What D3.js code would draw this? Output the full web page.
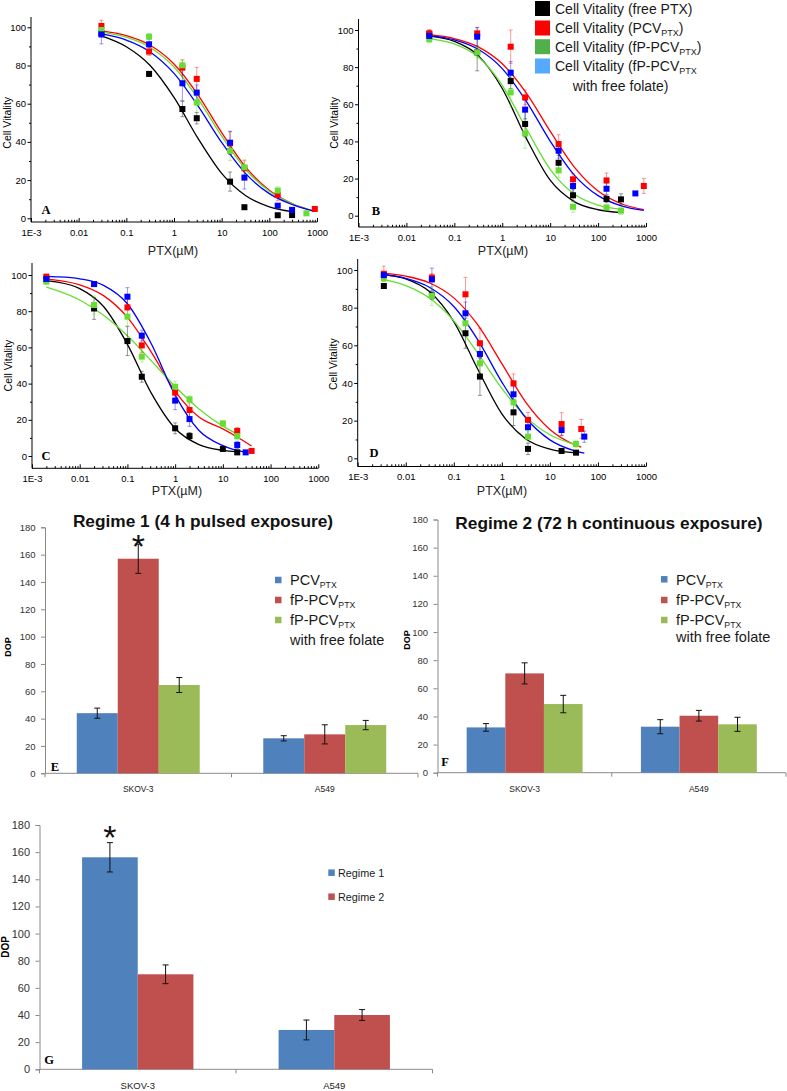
<!DOCTYPE html>
<html><head><meta charset="utf-8">
<script src="https://cdn.jsdelivr.net/npm/d3@7"></script>
<style>body{margin:0;background:#fff}svg{display:block}</style>
</head><body><svg id="c" width="787" height="1091"></svg>
<script>
// ---------------- DATA ----------------
const curveYTicks = [0, 20, 40, 60, 80, 100];
const curveYMinor = [10, 30, 50, 70, 90];
const curveXTicks = [1e-3, 1e-2, 1e-1, 1, 10, 100, 1000];
const curveXTickLabels = ["1E-3", "0.01", "0.1", "1", "10", "100", "1000"];
const curveSeriesNames = ["free PTX", "PCV_PTX", "fP-PCV_PTX", "fP-PCV_PTX with free folate"];

// points: [PTX µM, cell vitality, error]
const A_black = [[0.03,97,2],[0.3,75.6,1],[1.5,57.2,4],[3,52.4,3],[15,19.2,5],[30,5.8,1],[150,1.6,0.5],[300,1.7,0.5]];
const A_red   = [[0.03,100.7,3],[0.3,87.3,2],[1.5,78.9,4],[3,73,6],[15,39.3,6],[30,26.2,4],[150,12.2,3],[900,4.9,1]];
const A_green = [[0.03,98.6,2],[0.3,95.1,1.5],[1.5,80.1,3],[3,60.6,5],[15,35.3,5],[30,26.7,4],[150,14.5,2],[600,2.6,0.5]];
const A_blue  = [[0.03,96.3,5],[0.3,91.1,3],[1.5,70.7,9],[3,65.8,4],[15,39.6,6],[30,21.3,6],[150,6.6,1],[300,4.4,1]];
// fitted curves: [PTX µM, cell vitality]
const A_black_fit = [[0.03,95.5],[0.1,89.8],[0.316,80],[1,63.3],[3.16,42],[10,23.5],[31.6,11.9],[100,6],[300,3.5]];
const A_red_fit   = [[0.03,98.1],[0.1,95.6],[0.316,90.6],[1,80.8],[3.16,64.8],[10,44.9],[31.6,26.9],[100,14.7],[316,7.5],[900,3.8]];
const A_green_fit = [[0.03,97.5],[0.1,94.8],[0.316,89.4],[1,79.2],[3.16,62.8],[10,43],[31.6,25.7],[100,14.2],[316,7.5],[900,3.5]];
const A_blue_fit  = [[0.03,96.5],[0.1,93.3],[0.316,87.1],[1,75.9],[3.16,59],[10,39.7],[31.6,23.5],[100,12.9],[316,7],[900,3.6]];

const B_black = [[0.03,97.7,2],[0.3,88,10],[1.5,72.5,4],[3,49.4,7],[15,28.5,4],[30,11,3],[150,9,2],[300,8.8,3]];
const B_red   = [[0.03,98.2,2],[0.3,98.2,3],[1.5,91,9],[3,63.7,4],[15,38.6,5],[30,19.6,3],[150,19,4],[900,16,4]];
const B_green = [[0.03,95,2],[0.3,88,3],[1.5,66.4,8],[3,44.3,8],[15,24.4,4],[30,4.8,3],[150,4.5,1],[300,2.7,2]];
const B_blue  = [[0.03,96.8,2],[0.3,96.4,5],[1.5,77,6],[3,57.1,5],[15,35,4],[30,16,4],[150,14.5,3],[600,12,1]];
const B_black_fit = [[0.03,96.7],[0.1,93.9],[0.316,86.2],[1,68.5],[3.16,41.8],[10,19.1],[31.6,7.6],[100,3.2],[300,1.7]];
const B_red_fit   = [[0.03,97.5],[0.1,95.4],[0.316,90.9],[1,81.8],[3.16,66.1],[10,45.5],[31.6,26.3],[100,13.3],[316,6.3],[900,3.3]];
const B_green_fit = [[0.03,95.4],[0.1,92.5],[0.316,85.4],[1,70.2],[3.16,47],[10,25],[31.6,11.7],[100,5.7],[300,3.4]];
const B_blue_fit  = [[0.03,97],[0.1,94.7],[0.316,89.6],[1,79.2],[3.16,61.7],[10,40.2],[31.6,22],[100,10.8],[316,5.2],[900,2.9]];

const C_black = [[0.002,97.6,1],[0.02,81.5,6],[0.1,63.5,8],[0.2,43.8,3],[1,15.3,3],[2,11,2],[10,3.9,1],[20,2,1]];
const C_red   = [[0.002,99.1,1],[0.02,95,1],[0.1,82.1,6],[0.2,61.1,4],[1,35,3],[2,25.4,4],[20,13.8,2],[40,2.8,1]];
const C_green = [[0.002,96.3,1],[0.02,83.4,5],[0.1,77,5],[0.2,54.9,3],[1,38.3,3],[2,31.3,2],[10,18,1.5],[20,11,2]];
const C_blue  = [[0.002,97.8,1],[0.02,95,1],[0.1,88,5],[0.2,66.5,3],[1,30.6,5],[2,20.4,4],[20,6.1,2],[30,2,0.5]];
const C_black_fit = [[0.002,96.9],[0.00316,96.2],[0.01,92.5],[0.0316,82.6],[0.1,61.7],[0.316,34.7],[1,15.2],[3.16,6.3],[10,3.1],[20,2.3]];
const C_red_fit   = [[0.002,97.7],[0.00316,97.2],[0.01,94.6],[0.0316,88.6],[0.1,76.6],[0.316,57.4],[1,35.7],[3.16,21.5],[10,15],[20,10.5],[40,5.5]];
const C_green_fit = [[0.002,93.3],[0.00316,91.7],[0.01,86.2],[0.0316,77.8],[0.1,66.4],[0.316,52.6],[1,38.4],[3.16,26],[10,16.5],[20,12.2]];
const C_blue_fit  = [[0.002,99.2],[0.00316,99],[0.01,97.9],[0.0316,94.3],[0.1,84.1],[0.316,62],[1,33.6],[3.16,14.1],[10,5.7],[30,2]];

const D_black = [[0.0035,91.5,1],[0.035,86.5,2],[0.175,66.4,8],[0.35,43.4,10],[1.75,24.4,7],[3.5,5,3],[17.5,3.9,1],[35,3,1]];
const D_red   = [[0.0035,98,4],[0.035,96,2],[0.175,87.1,9],[0.35,61.1,8],[1.75,39.8,5],[3.5,20.4,4],[17.5,18.2,6],[45,15.6,5]];
const D_green = [[0.0035,95.6,1],[0.035,86.2,5],[0.175,71.7,3],[0.35,50.4,5],[1.75,29.7,4],[3.5,11.5,3],[35,7.6,2]];
const D_blue  = [[0.0035,97.3,1],[0.035,95,6],[0.175,77,6],[0.35,55.4,5],[1.75,34,4],[3.5,16.5,4],[17.5,15,3],[52,11.5,3]];
const D_black_fit = [[0.0035,97.6],[0.01,95.3],[0.0316,88.4],[0.1,72.6],[0.316,47.3],[1,23.6],[3.16,10.3],[10,4.9],[35,2.9]];
const D_red_fit   = [[0.0035,98.3],[0.01,96.7],[0.0316,93.1],[0.1,85.2],[0.316,70.8],[1,50.3],[3.16,29.7],[10,15.3],[31.6,7.4],[45,5.9]];
const D_green_fit = [[0.0035,94.9],[0.01,91.7],[0.0316,85],[0.1,73],[0.316,55.8],[1,37.1],[3.16,22],[10,12.5],[35,7.2]];
const D_blue_fit  = [[0.0035,97.5],[0.01,95.5],[0.0316,90.7],[0.1,80.6],[0.316,62.9],[1,40.5],[3.16,21.4],[10,9.8],[31.6,4.1],[52,2.7]];

// bar charts
const barCategories = ["SKOV-3", "A549"];
const barYTicks = [0, 20, 40, 60, 80, 100, 120, 140, 160, 180];
const E_pcv = [44, 25.6],   E_pcv_err = [3.7, 1.9];
const E_fp  = [157, 28.5],  E_fp_err  = [10.7, 7];
const E_fpf = [64.6, 35.3], E_fpf_err = [5.5, 3.4];
const F_pcv = [32.2, 32.7], F_pcv_err = [2.7, 5];
const F_fp  = [70.6, 40.5], F_fp_err  = [7.5, 3.8];
const F_fpf = [48.8, 34.4], F_fpf_err = [6.2, 5];
const G_r1  = [156.2, 29],  G_r1_err  = [10.8, 7.3];
const G_r2  = [70, 40],     G_r2_err  = [6.9, 4];

// ---------------- DRAW ----------------
const SANS = "'Liberation Sans', Arial, sans-serif";
const SERIF = "'Liberation Serif', 'Times New Roman', serif";
const curveColors = ["#000000", "#ff0000", "#66dd33", "#0000ff"];
const legendColors = ["#000000", "#ff0000", "#52b04a", "#55aaff"];
const barColors = ["#4f81bd", "#c0504d", "#9bbb59"];

const svg = d3.select("#c");
svg.append("rect").attr("width", 787).attr("height", 1091).attr("fill", "#fff");

function curvePanel(p, pts, fits) {
  const g = svg.append("g");
  const x = d3.scaleLog().domain([1e-3, 1e3]).range([p.x0, p.x1]);
  const y = d3.scaleLinear().domain([0, 100]).range([p.y0, p.y100]);

  g.append("line").attr("x1", p.x0).attr("x2", p.x0).attr("y1", p.topY).attr("y2", p.axisY)
    .attr("stroke", "#000").attr("stroke-width", 1);
  g.append("line").attr("x1", p.x0).attr("x2", p.x1).attr("y1", p.axisY).attr("y2", p.axisY)
    .attr("stroke", "#000").attr("stroke-width", 1);

  const ya = g.append("g").attr("transform", `translate(${p.x0},0)`)
    .call(d3.axisLeft(y).tickValues(curveYTicks).tickSize(3.5).tickPadding(1.5));
  ya.select(".domain").remove();
  ya.attr("font-size", 9.5).attr("font-family", SANS);
  const ym = g.append("g").attr("transform", `translate(${p.x0},0)`)
    .call(d3.axisLeft(y).tickValues(curveYMinor).tickSize(2).tickFormat(""));
  ym.select(".domain").remove();

  const xa = g.append("g").attr("transform", `translate(0,${p.axisY})`)
    .call(d3.axisBottom(x).tickValues(curveXTicks).tickFormat((d, i) => curveXTickLabels[i]).tickSize(-4).tickPadding(7));
  xa.select(".domain").remove();
  xa.attr("font-size", 9.5).attr("font-family", SANS);
  const minors = [];
  curveXTicks.slice(0, 6).forEach(d => { for (let k = 2; k <= 9; k++) minors.push(d * k); });
  const xm = g.append("g").attr("transform", `translate(0,${p.axisY})`)
    .call(d3.axisBottom(x).tickValues(minors).tickSize(-2.2).tickFormat(""));
  xm.select(".domain").remove();

  g.append("text").attr("transform", `translate(${p.x0 - 20.5},${(p.y0 + p.y100) / 2}) rotate(-90)`)
    .attr("text-anchor", "middle").attr("font-family", SANS).attr("font-size", 10.5).text("Cell Vitality");
  g.append("text").attr("x", p.tx).attr("y", p.ty).attr("text-anchor", "middle")
    .attr("font-family", SANS).attr("font-size", 12.5).attr("fill", "#222").text("PTX(µM)");
  g.append("text").attr("x", p.lx).attr("y", p.ly).attr("text-anchor", "middle")
    .attr("font-family", SERIF).attr("font-weight", "bold").attr("font-size", 12.5).text(p.label);

  const line = d3.line().x(d => x(d[0])).y(d => y(d[1])).curve(d3.curveMonotoneX);
  fits.forEach((f, i) => {
    g.append("path").attr("d", line(f)).attr("fill", "none")
      .attr("stroke", curveColors[i]).attr("stroke-width", 1.3);
  });
  pts.forEach((s, i) => {
    const eg = g.append("g").attr("stroke", curveColors[i]).attr("stroke-opacity", 0.45).attr("stroke-width", 0.9);
    s.forEach(d => {
      const cx = x(d[0]);
      eg.append("line").attr("x1", cx).attr("x2", cx).attr("y1", y(d[1] - d[2])).attr("y2", y(d[1] + d[2]));
      eg.append("line").attr("x1", cx - 2).attr("x2", cx + 2).attr("y1", y(d[1] - d[2])).attr("y2", y(d[1] - d[2]));
      eg.append("line").attr("x1", cx - 2).attr("x2", cx + 2).attr("y1", y(d[1] + d[2])).attr("y2", y(d[1] + d[2]));
    });
  });
  pts.forEach((s, i) => {
    g.append("g").selectAll("rect").data(s).join("rect")
      .attr("x", d => x(d[0]) - 3).attr("y", d => y(d[1]) - 3)
      .attr("width", 6).attr("height", 6).attr("fill", curveColors[i]);
  });
}

curvePanel({x0: 31, x1: 317, y0: 218.3, y100: 27.3, axisY: 222, topY: 17, label: "A", lx: 46, ly: 213.5, tx: 173, ty: 254.5},
  [A_black, A_red, A_green, A_blue], [A_black_fit, A_red_fit, A_green_fit, A_blue_fit]);
curvePanel({x0: 358.5, x1: 646, y0: 215.7, y100: 30, axisY: 227, topY: 19, label: "B", lx: 376, ly: 215, tx: 503, ty: 254.5},
  [B_black, B_red, B_green, B_blue], [B_black_fit, B_red_fit, B_green_fit, B_blue_fit]);
curvePanel({x0: 32, x1: 318.3, y0: 456, y100: 275, axisY: 468.3, topY: 263, label: "C", lx: 46, ly: 460, tx: 177, ty: 494.5},
  [C_black, C_red, C_green, C_blue], [C_black_fit, C_red_fit, C_green_fit, C_blue_fit]);
curvePanel({x0: 357.7, x1: 646, y0: 458.3, y100: 270, axisY: 466.5, topY: 259, label: "D", lx: 374, ly: 457, tx: 502, ty: 494.5},
  [D_black, D_red, D_green, D_blue], [D_black_fit, D_red_fit, D_green_fit, D_blue_fit]);

// text helper with subscripts: parts = [[text, isSub], ...]
function richText(parent, x, y, parts, size, subSize, anchor) {
  const t = parent.append("text").attr("x", x).attr("y", y).attr("font-family", SANS)
    .attr("font-size", size).attr("fill", "#1a1a1a").attr("text-anchor", anchor || "start");
  let prevSub = false;
  parts.forEach(([s, sub]) => {
    const ts = t.append("tspan").text(s);
    if (sub) ts.attr("font-size", subSize);
    const dy = sub && !prevSub ? size * 0.22 : (!sub && prevSub ? -size * 0.22 : 0);
    ts.attr("dy", dy);
    prevSub = sub;
  });
  return t;
}

// top-right legend
const legRows = [
  [["Cell Vitality (free  PTX)", false]],
  [["Cell Vitality (PCV", false], ["PTX", true], [")", false]],
  [["Cell Vitality (fP-PCV", false], ["PTX", true], [")", false]],
  [["Cell Vitality (fP-PCV", false], ["PTX", true]]
];
const legY = [8.5, 28, 46.7, 66];
const lg = svg.append("g");
legRows.forEach((r, i) => {
  lg.append("rect").attr("x", 535).attr("y", legY[i] - 7.5).attr("width", 15).attr("height", 15).attr("fill", legendColors[i]);
  richText(lg, 555, legY[i] + 5, r, 14, 9);
});
richText(lg, 572.7, 86 + 5, [["with free  folate)", false]], 14, 9);

// bar panels
function barPanel(p, vals, errs, names) {
  const g = svg.append("g");
  const n = vals.length;
  const x = d3.scaleBand().domain(barCategories).range([p.xl, p.xr]);
  const xs = d3.scaleBand().domain(d3.range(n)).range([0, x.bandwidth()]).paddingInner(0).paddingOuter(p.po);
  const y = d3.scaleLinear().domain([0, 180]).range([p.y0, p.y180]);

  const ya = g.append("g").attr("transform", `translate(${p.xl},0)`)
    .call(d3.axisLeft(y).tickValues(barYTicks).tickSize(4).tickPadding(5.5));
  ya.select(".domain").attr("stroke", "#8a8a8a");
  ya.selectAll(".tick line").attr("stroke", "#8a8a8a");
  ya.attr("font-size", p.tickFont).attr("font-family", SANS);
  ya.selectAll(".tick text").attr("fill", "#333");
  g.append("line").attr("x1", p.xl).attr("x2", p.xr).attr("y1", p.y0).attr("y2", p.y0).attr("stroke", "#8a8a8a");
  const bounds = barCategories.map(c => x(c)).concat([p.xr]);
  g.selectAll(".sep").data(bounds).join("line").attr("x1", d => d).attr("x2", d => d)
    .attr("y1", p.y0).attr("y2", p.y0 + 4).attr("stroke", "#8a8a8a");
  const xa = g.append("g").attr("transform", `translate(0,${p.y0})`)
    .call(d3.axisBottom(x).tickSize(0).tickPadding(p.catPad));
  xa.select(".domain").remove();
  xa.attr("font-size", p.catFont).attr("font-family", SANS);
  xa.selectAll(".tick text").attr("fill", "#222");

  vals.forEach((sv, si) => {
    g.append("g").selectAll("rect").data(sv).join("rect")
      .attr("x", (d, ci) => x(barCategories[ci]) + xs(si))
      .attr("y", d => y(d)).attr("width", xs.bandwidth()).attr("height", d => p.y0 - y(d))
      .attr("fill", barColors[si]);
  });
  vals.forEach((sv, si) => {
    const eg = g.append("g").attr("stroke", "#111").attr("stroke-width", 1);
    sv.forEach((d, ci) => {
      const cx = x(barCategories[ci]) + xs(si) + xs.bandwidth() / 2;
      const e = errs[si][ci];
      eg.append("line").attr("x1", cx).attr("x2", cx).attr("y1", y(d - e)).attr("y2", y(d + e));
      eg.append("line").attr("x1", cx - 3).attr("x2", cx + 3).attr("y1", y(d - e)).attr("y2", y(d - e));
      eg.append("line").attr("x1", cx - 3).attr("x2", cx + 3).attr("y1", y(d + e)).attr("y2", y(d + e));
    });
  });

  g.append("text").attr("transform", `translate(${p.dopX},${p.dopY}) rotate(-90)`)
    .attr("text-anchor", "middle").attr("font-family", SANS).attr("font-weight", "bold")
    .attr("font-size", p.dopFont).text("DOP");
  g.append("text").attr("x", p.lx).attr("y", p.ly).attr("text-anchor", "middle")
    .attr("font-family", SERIF).attr("font-weight", "bold").attr("font-size", 12.5).text(p.label);

  names.forEach((nm, i) => {
    g.append("rect").attr("x", p.legX).attr("y", p.legY[i] - p.sq / 2).attr("width", p.sq).attr("height", p.sq).attr("fill", barColors[i]);
    richText(g, p.legTX, p.legY[i] + p.legFont * 0.36, nm, p.legFont, p.legFont * 0.6);
  });
  if (p.extra) richText(g, p.legTX, p.extra[1] + p.legFont * 0.36, [[p.extra[0], false]], p.legFont, 9);
  if (p.star) {
    const si = p.star[0];
    const cx = x(barCategories[0]) + xs(si) + xs.bandwidth() / 2;
    g.append("text").attr("x", cx).attr("y", p.star[1] + 20).attr("text-anchor", "middle")
      .attr("font-family", SANS).attr("font-size", 34).attr("fill", "#111").text("*");
  }
  if (p.title) {
    g.append("text").attr("x", p.title[1]).attr("y", p.title[2]).attr("text-anchor", "middle")
      .attr("font-family", SANS).attr("font-weight", "bold").attr("font-size", 17.3).attr("fill", "#111").text(p.title[0]);
  }
}

const legNames3 = [
  [["PCV", false], ["PTX", true]],
  [["fP-PCV", false], ["PTX", true]],
  [["fP-PCV", false], ["PTX", true]]
];

barPanel({xl: 45, xr: 418, y0: 773.3, y180: 527.3, po: 0.775, tickFont: 9.5, catFont: 8.5, catPad: 13,
  dopX: 11, dopY: 647, dopFont: 9, label: "E", lx: 55, ly: 771,
  legX: 275, legY: [580, 600, 620], sq: 6.5, legTX: 290, legFont: 14.5, extra: ["with free folate", 639.3],
  star: [1, 538], title: ["Regime 1 (4 h pulsed exposure)", 203, 527]},
  [E_pcv, E_fp, E_fpf], [E_pcv_err, E_fp_err, E_fpf_err], legNames3);

barPanel({xl: 437.5, xr: 786, y0: 772.7, y180: 519.5, po: 0.755, tickFont: 9.5, catFont: 8.5, catPad: 13,
  dopX: 410, dopY: 640, dopFont: 9, label: "F", lx: 445, ly: 766,
  legX: 661, legY: [579.3, 600, 620], sq: 6.5, legTX: 676, legFont: 14.5, extra: ["with free folate", 637],
  title: ["Regime 2 (72 h continuous exposure)", 609, 529]},
  [F_pcv, F_fp, F_fpf], [F_pcv_err, F_fp_err, F_fpf_err], legNames3);

barPanel({xl: 39.5, xr: 432.5, y0: 1069.3, y180: 825, po: 0.765, tickFont: 11, catFont: 9.5, catPad: 12.5,
  dopX: 9, dopY: 947, dopFont: 10, label: "G", lx: 49, ly: 1063.5,
  legX: 328.3, legY: [872.7, 896.7], sq: 6.5, legTX: 338, legFont: 10.8,
  star: [0, 829]},
  [G_r1, G_r2], [G_r1_err, G_r2_err], [[["Regime 1", false]], [["Regime 2", false]]]);
</script>
</body></html>
